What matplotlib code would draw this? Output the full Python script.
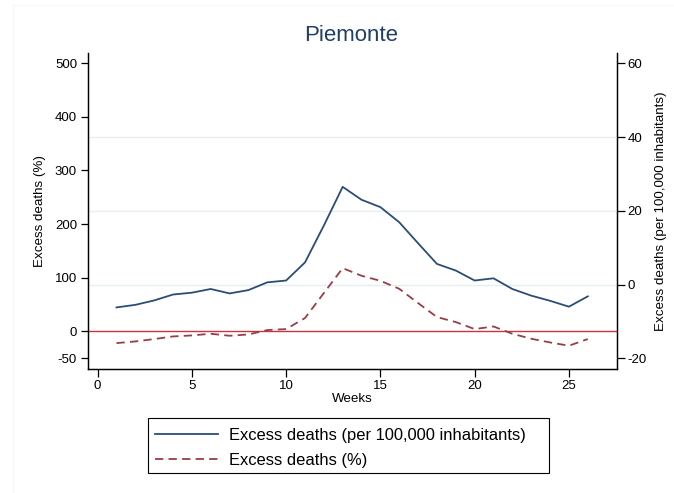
import numpy as np
import matplotlib.pyplot as plt
from matplotlib.patches import Rectangle

plt.rcParams['font.family'] = ['Liberation Sans', 'DejaVu Sans']
plt.rcParams['axes.unicode_minus'] = False

weeks = list(range(1, 27))
# per 100,000 inhabitants (right axis)
per_100k = [-6.2, -5.5, -4.3, -2.7, -2.2, -1.2, -2.4, -1.5, 0.6, 1.1,
            6.0, 16.0, 26.5, 23.0, 21.0, 16.9, 11.2, 5.6, 3.8, 1.1,
            1.7, -1.2, -3.0, -4.4, -6.0, -3.2]
# percent (left axis)
pct = [-21.7, -18.6, -14.2, -9.3, -7.4, -4.3, -8.0, -5.6, 2.6, 4.4,
       25.0, 71.5, 118.0, 103.8, 94.4, 79.5, 52.9, 26.8, 17.5, 4.4,
       9.3, -4.3, -13.6, -20.5, -26.6, -14.2]

navy = '#2b4d74'
maroon = '#9a3d44'
grid_c = '#e6eff0'

W, H = 674, 493
fig = plt.figure(figsize=(6.74, 4.93), dpi=100)
# very faint outer frame
fig.patches.append(Rectangle((13 / W, -0.01), 1.0, 1 - 5 / H + 0.01,
                             transform=fig.transFigure, fill=False,
                             edgecolor='#f7f7f7', lw=0.8))

ax = fig.add_axes([0.130, 0.2515, 0.7854, 0.641])
ax2 = ax.twinx()
ax.set_zorder(ax2.get_zorder() + 1)
ax.patch.set_visible(False)

for g in [0, 20, 40]:
    ax2.axhline(g, color=grid_c, lw=1.0, zorder=0)

l1, = ax2.plot(weeks, per_100k, color=navy, lw=1.3)
l2, = ax.plot(weeks, pct, color=maroon, lw=1.3, ls=(0, (4.6, 2.9)))
ax.axhline(0, color='#c8343f', lw=1.0, zorder=1)

ax.set_xlim(-0.53, 27.55)
ax.set_ylim(-70, 519)
ax2.set_ylim(-22.9, 62.8)

ax.set_xticks([0, 5, 10, 15, 20, 25])
ax.set_yticks([-50, 0, 100, 200, 300, 400, 500])
ax2.set_yticks([-20, 0, 20, 40, 60])

for a in (ax, ax2):
    a.spines['top'].set_visible(False)
    for s in a.spines.values():
        s.set_linewidth(0.9)
    a.tick_params(direction='out', length=5.4, width=0.9, labelsize=9.5, pad=2.2)

ax.set_xlabel('Weeks', fontsize=9.6, labelpad=1)
ax.set_ylabel('Excess deaths (%)', fontsize=9.6, labelpad=6)
ax2.set_ylabel('Excess deaths (per 100,000 inhabitants)', fontsize=9.6, labelpad=6)

fig.text(0.5215, 0.928, 'Piemonte', ha='center', va='center', fontsize=16, color='#1f3f66')

# legend box drawn separately (Stata-style wide frame)
fig.patches.append(Rectangle((148 / W, 1 - 473 / H), 401 / W, 55 / H,
                             transform=fig.transFigure, fill=False,
                             edgecolor='black', lw=0.8))
leg = fig.legend([l1, l2], ['Excess deaths (per 100,000 inhabitants)', 'Excess deaths (%)'],
                 loc='upper left', bbox_to_anchor=(155 / W, 1 - 428 / H), fontsize=11.9,
                 frameon=False, handlelength=3.8, borderpad=0, borderaxespad=0,
                 labelspacing=0.62, handletextpad=0.67)

fig.savefig('out.png', dpi=100)
